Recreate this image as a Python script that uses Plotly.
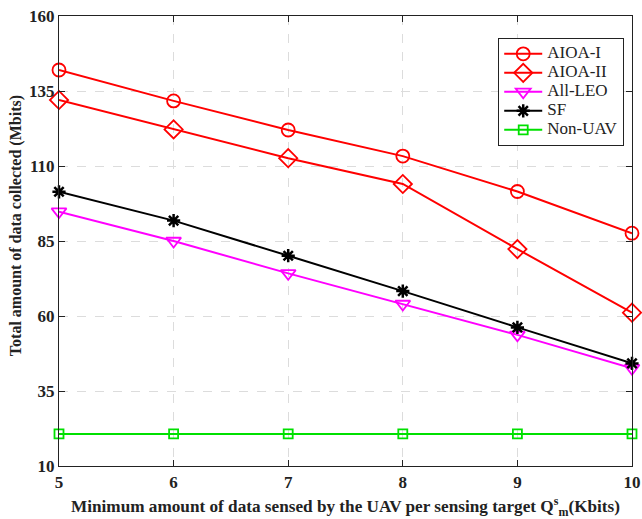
import plotly.graph_objects as go

x_vals = [5, 6, 7, 8, 9, 10]
aioa1 = [142.0, 131.7, 122.0, 113.3, 101.5, 87.6]
aioa2 = [132.0, 122.2, 112.6, 104.0, 82.3, 61.1]
all_leo = [94.8, 85.0, 74.2, 64.0, 53.7, 42.6]
sf = [101.4, 91.8, 80.1, 68.3, 56.2, 44.2]
non_uav = [20.7, 20.7, 20.7, 20.7, 20.7, 20.7]
y_ticks = [10, 35, 60, 85, 110, 135, 160]

series = [
    ("AIOA-I", aioa1, "#ff0000", "circle-open", 13),
    ("AIOA-II", aioa2, "#ff0000", "diamond-open", 14),
    ("All-LEO", all_leo, "#ff00ff", "triangle-down-open", 13),
    ("SF", sf, "#000000", "asterisk-open", 11),
    ("Non-UAV", non_uav, "#00e000", "square-open", 9),
]

font_family = "Liberation Serif, Times New Roman, serif"

fig = go.Figure()
for name, ys, color, sym, size in series:
    fig.add_trace(go.Scatter(
        x=x_vals, y=ys, mode="lines+markers",
        name='<span style="font-size:17px;font-family:\'Liberation Serif\',serif">' + name + '</span>',
        line=dict(color=color, width=2),
        marker=dict(symbol=sym, size=size, color=color,
                    line=dict(color=color, width=1.8 if sym != "asterisk-open" else 2.5)),
        cliponaxis=False,
    ))

fig.update_layout(
    width=642, height=519,
    margin=dict(l=59, r=10, t=16, b=53, autoexpand=False),
    plot_bgcolor="white", paper_bgcolor="white",
    font=dict(family=font_family, color="#222222"),
    showlegend=True,
    legend=dict(
        x=0.766, y=0.951, xanchor="left", yanchor="top",
        bgcolor="white", bordercolor="#222222", borderwidth=1.3,
        font=dict(family=font_family, size=11.8, color="#222222"),
        tracegroupgap=0, itemwidth=38,
    ),
    xaxis=dict(
        range=[5, 10], tickvals=x_vals, ticktext=[str(v) for v in x_vals],
        showgrid=True, gridcolor="#dcdcdc", griddash="dash", gridwidth=1,
        showline=True, linecolor="#222222", linewidth=1.2, mirror="ticks",
        ticks="inside", ticklen=6, tickcolor="#222222", automargin=False,
        tickfont=dict(family=font_family, size=17, color="#222222", weight="bold"),
        title=dict(text="Minimum amount of data sensed by the UAV per sensing target Q<sup>s</sup><sub>m</sub>(Kbits)",
                   font=dict(family=font_family, size=17.2, color="#222222", weight="bold"),
                   standoff=10),
        zeroline=False,
    ),
    yaxis=dict(
        range=[10, 160], tickvals=y_ticks, ticktext=[str(v) for v in y_ticks],
        showgrid=True, gridcolor="#dcdcdc", griddash="dash", gridwidth=1,
        showline=True, linecolor="#222222", linewidth=1.2, mirror="ticks",
        ticks="inside", ticklen=6, tickcolor="#222222", automargin=False,
        tickfont=dict(family=font_family, size=17, color="#222222", weight="bold"),
        zeroline=False,
    ),
    annotations=[dict(
        text="Total amount of data collected (Mbits)",
        xref="paper", yref="paper", x=0, y=0.533, xanchor="center", yanchor="middle",
        xshift=-43, textangle=-90, showarrow=False,
        font=dict(family=font_family, size=16, color="#222222", weight="bold"),
    )],
)

fig.write_html("out.html")
